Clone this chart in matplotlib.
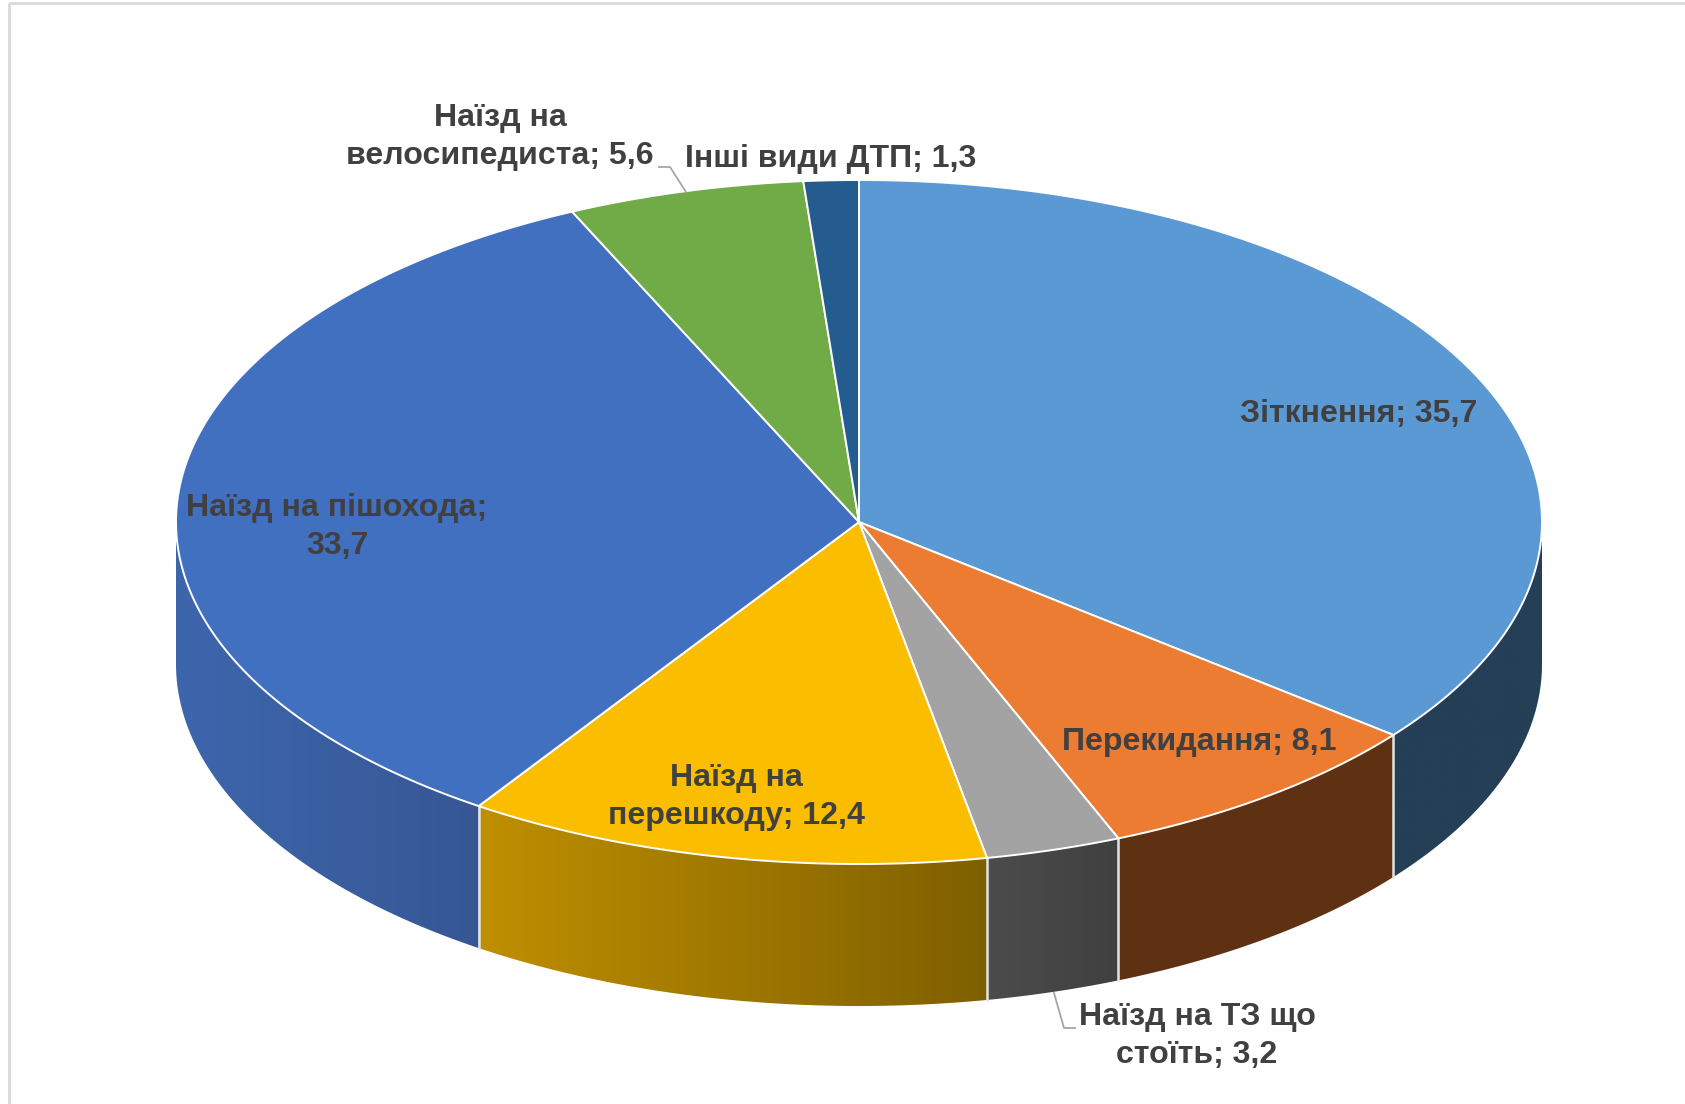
import numpy as np
import matplotlib
matplotlib.use('Agg')
import matplotlib.pyplot as plt
from matplotlib.patches import Polygon, Rectangle

# Chart data
labels = ['Зіткнення; 35,7', 'Перекидання; 8,1', 'Наїзд на ТЗ що\nстоїть; 3,2',
          'Наїзд на\nперешкоду; 12,4', 'Наїзд на пішохода;\n33,7',
          'Наїзд на\nвелосипедиста; 5,6', 'Інші види ДТП; 1,3']
values = [35.7, 8.1, 3.2, 12.4, 33.7, 5.6, 1.3]

top_colors = ['#5B99D5', '#EB7C32', '#A3A3A3', '#FBBD00', '#4270C0', '#70AB48', '#255C90']
# wall colours, left end and right end of each slice's side
wall_left = ['#243F56', '#5F3113', '#4C4C4C', '#BF8F00', '#3E66AD', '#43682B', '#16385A']
wall_right = ['#243F56', '#5F3113', '#404040', '#7F6000', '#365794', '#43682B', '#16385A']

# label centres in pixels
label_pos = [(1359, 414), (1199, 742), (1197, 1036), (736, 797), (337, 527), (500, 137), (831, 159)]

# pie geometry in pixels
cx, cy = 859, 522
rx, ry = 683, 342
depth = 142

W, H = 1685, 1104


def point(angle):
    # angle is clockwise from the top of the pie, in degrees
    a = np.radians(angle)
    return cx + rx * np.sin(a), cy - ry * np.cos(a)


def hex_to_rgb(c):
    return np.array(matplotlib.colors.to_rgb(c))


fig = plt.figure(figsize=(W / 100, H / 100), dpi=100)
ax = fig.add_axes([0, 0, 1, 1])
ax.set_xlim(0, W)
ax.set_ylim(H, 0)
ax.axis('off')

# thin frame of the chart area
ax.add_patch(Rectangle((9, 3), W + 20, H + 20, fill=False, edgecolor='#D9D9D9', linewidth=2))

edges = np.cumsum([0] + values) * 3.6

# side walls, only the front half of the pie can be seen
for i in range(len(values)):
    start = max(edges[i], 90)
    stop = min(edges[i + 1], 270)
    if stop <= start:
        continue
    t = np.linspace(start, stop, 200)
    xs, ys = point(t)
    outline = np.column_stack([np.r_[xs, xs[::-1]], np.r_[ys, ys[::-1] + depth]])
    clip = Polygon(outline, closed=True, facecolor='none', edgecolor='none')
    ax.add_patch(clip)
    x0, x1 = xs.min(), xs.max()
    grad = np.linspace(0, 1, 128)[:, None]
    rgb = hex_to_rgb(wall_left[i]) * (1 - grad) + hex_to_rgb(wall_right[i]) * grad
    im = ax.imshow(rgb[None, :, :], extent=(x0, x1, ys.max() + depth, ys.min()),
                   aspect='auto', interpolation='bilinear', zorder=2)
    im.set_clip_path(clip)

# white seams between the walls
for e in edges:
    if 90 < e < 270:
        x, y = point(e)
        ax.plot([x, x], [y, y + depth], color='#E4E4E4', lw=1.8, zorder=3)

ax.set_xlim(0, W)
ax.set_ylim(H, 0)

# top face
for i in range(len(values)):
    t = np.linspace(edges[i], edges[i + 1], 200)
    xs, ys = point(t)
    ax.fill(np.r_[cx, xs], np.r_[cy, ys], facecolor=top_colors[i],
            edgecolor='white', linewidth=1.4, joinstyle='round', zorder=4)

# leader lines
ax.plot([659, 670, 686], [167, 167, 192], color='#A6A6A6', lw=1.3, zorder=5)
ax.plot([1054, 1064, 1075], [993, 1028, 1028], color='#A6A6A6', lw=1.3, zorder=5)

for lab, (x, y) in zip(labels, label_pos):
    ax.text(x, y, lab, ha='center', va='center', family='Liberation Sans', weight='bold',
            fontsize=23.1, color='#404040', linespacing=1.33, zorder=6)

fig.savefig('out.png', dpi=100)
